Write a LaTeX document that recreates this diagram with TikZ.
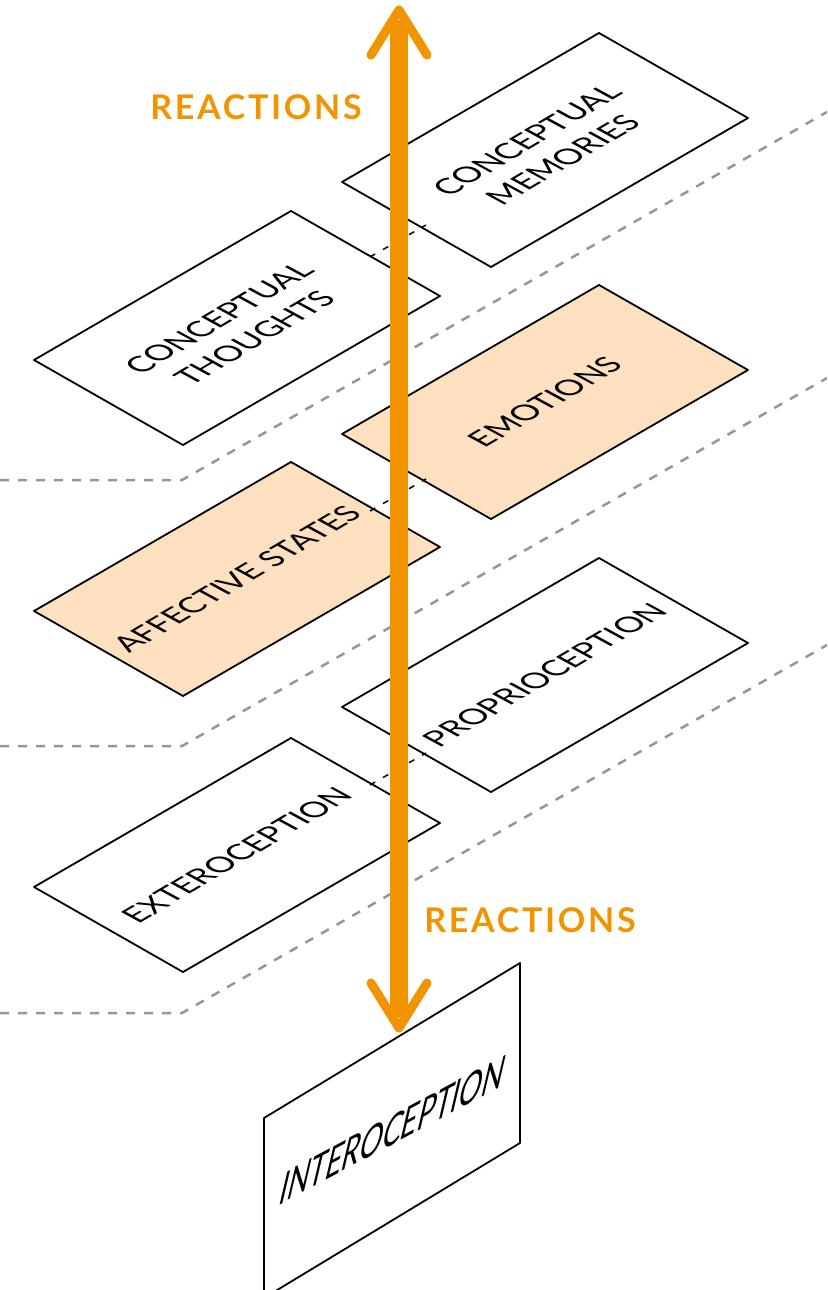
\documentclass[tikz,border=0pt]{standalone}
\usepackage{fontspec}
\setmainfont{Lato}
\usepackage{xcolor}
\definecolor{react}{RGB}{242,148,0}
\definecolor{peach}{RGB}{253,224,191}
\definecolor{guide}{RGB}{150,150,150}
\usetikzlibrary{arrows.meta}
\tikzset{
    plane box/.style = {draw=black, line width=1.8pt, fill=white},
    warm/.style = {plane box/.append style={fill=peach}},
    plane/.pic = {
    \draw[plane box] (-203,32) -- (54,-117) -- (203,-32) -- (-54,117) -- cycle;
    \node[transform shape, cm={0.861,0.509,-0.878,0.478,(0,0)}, align=center,
          font=\fontsize{31}{41}\selectfont] (-txt) {#1};
    }
}

\begin{document}
\begin{tikzpicture}[line join=round, x=1pt, y=-1pt,
    guideline/.style = {guide, line width=2.5pt, dash pattern=on 9pt off 9pt},
    hidden/.style = {black, line width=1.5pt, dash pattern=on 6pt off 9pt},
    shaft/.style = {react, line width=18pt},
    barb/.style = {react, line width=9pt, line cap=round, line join=round},
    reaction label/.style = {text=react,
        font=\fontsize{34}{40}\bfseries\selectfont\addfontfeature{LetterSpace=8}}]
	\useasboundingbox (0,0) rectangle (827,1290);
	\clip (0,0) rectangle (827,1290);
	% level guides
	\draw[guideline] (0,480) -- (182,480) -- (827,112);
	\draw[guideline] (0,746) -- (182,746) -- (827,378);
	\draw[guideline] (0,1013) -- (182,1013) -- (827,645);
	% layers
	\path (545,150) pic (memories) {plane={CONCEPTUAL\\MEMORIES}};
	\path (237,328) pic (thoughts) {plane={CONCEPTUAL\\THOUGHTS}};
	\path (545,402) pic[warm] (emotions) {plane=EMOTIONS};
	\path (237,579) pic[warm] (affective) {plane={AFFECTIVE STATES}};
	\path (545,675) pic (proprio) {plane=PROPRIOCEPTION};
	\path (237,855) pic (extero) {plane=EXTEROCEPTION};
	\draw[hidden] (370,257) -- (426,225);
	\draw[hidden] (370,511) -- (426,479);
	\draw[hidden] (370,785) -- (426,753);
	% upright plane
	\draw[plane box] (264,1118) -- (520,963) -- (520,1143) -- (264,1298) -- cycle;
	\node[cm={0.883,0.469,0.34,1.45,(393,1130)}, transform shape,
	      font=\fontsize{32}{40}\selectfont] (intero) {INTEROCEPTION};
	% reactions
	\coordinate (up) at (399,10);
	\coordinate (down) at (399,1028);
	\draw[shaft] ([yshift=-10pt]up) -- ([yshift=10pt]down);
	\draw[barb] (371,55) -- (up) -- (427,55);
	\draw[barb] (371,983) -- (down) -- (427,983);
	\node[reaction label] (react-up) at (256,107) {REACTIONS};
	\node[reaction label] (react-down) at (530,920) {REACTIONS};
\end{tikzpicture}
\end{document}
